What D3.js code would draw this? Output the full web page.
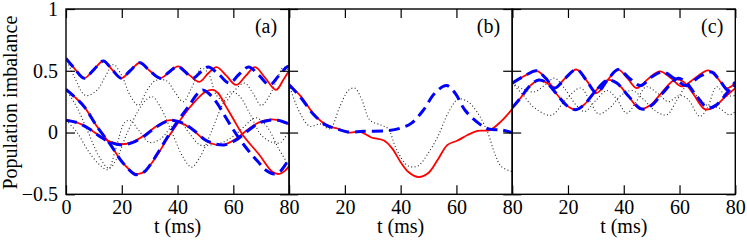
<!DOCTYPE html>
<html>
<head>
<meta charset="utf-8">
<script src="https://cdn.jsdelivr.net/npm/d3@7.9.0/dist/d3.min.js"></script>
<style>
  body { margin: 0; background: #fff; }
  svg text { font-family: "Liberation Serif", "Times New Roman", Times, "DejaVu Serif", serif; font-size: 20px; fill: #000; }
  .domain { display: none; }
  .tick line { stroke: #000; stroke-width: 1.2; }
</style>
</head>
<body>
<svg id="chart" width="747" height="244"></svg>
<script>
// panel (a): three initial imbalances 0.6, 0.35, 0.1
const aTopRed = [[0,0.6],[3,0.52],[6.5,0.44],[10,0.51],[13.4,0.58],[16.5,0.51],[19.8,0.44],[23,0.5],[26.5,0.565],[30,0.5],[33.8,0.44],[37,0.49],[40.2,0.535],[44,0.47],[47.8,0.41],[51,0.48],[54,0.53],[57.5,0.46],[61,0.385],[64.5,0.46],[67.8,0.53],[71.5,0.44],[75.3,0.345],[78,0.43],[80,0.5]];
const aTopBlue = [[0,0.6],[3,0.52],[6.5,0.44],[10,0.51],[13.4,0.58],[16.5,0.51],[19.8,0.44],[23,0.5],[26.5,0.565],[30,0.5],[33.8,0.44],[37,0.49],[40,0.535],[42.8,0.49],[45.5,0.44],[48.3,0.49],[51,0.53],[54.8,0.47],[58.6,0.4],[62,0.47],[65.5,0.53],[69.3,0.46],[73,0.385],[76.3,0.46],[79.5,0.535],[80,0.53]];
const aMidRed = [[0,0.35],[3,0.29],[6.5,0.21],[11.2,0.046],[16,-0.1],[20.2,-0.24],[24.4,-0.33],[26,-0.335],[28,-0.32],[32.8,-0.18],[36.3,-0.05],[40.5,0.087],[45,0.22],[50,0.33],[52.6,0.345],[54.5,0.32],[57.4,0.21],[60,0.11],[63.4,-0.02],[69.3,-0.18],[74.1,-0.32],[76.5,-0.335],[78.5,-0.31],[80,-0.27]];
const aMidBlue = [[0,0.35],[3,0.29],[6.5,0.21],[11.2,0.046],[16,-0.1],[20.2,-0.24],[24.8,-0.34],[26.5,-0.335],[28.5,-0.31],[32.8,-0.17],[36.3,-0.04],[40,0.09],[44.2,0.22],[47,0.31],[49,0.344],[51,0.32],[53.8,0.25],[56.8,0.14],[59.8,0.03],[62.8,-0.07],[65.8,-0.157],[68.8,-0.235],[71.7,-0.305],[74.7,-0.335],[77,-0.31],[79,-0.25],[80,-0.22]];
const aLowRed = [[0,0.1],[4,0.08],[8,0.035],[12,-0.025],[16,-0.075],[20,-0.095],[24,-0.075],[28,-0.025],[32,0.045],[36,0.095],[38,0.1],[42,0.07],[46,0.01],[50,-0.065],[54,-0.1],[57,-0.095],[61,-0.05],[65,0.02],[69,0.08],[73,0.105],[76,0.1],[80,0.065]];
const aLowBlue = [[0,0.1],[4,0.08],[8,0.035],[12,-0.03],[16,-0.08],[20,-0.1],[24,-0.08],[28,-0.03],[32,0.04],[36,0.09],[38,0.1],[42,0.075],[46,0.015],[50,-0.06],[54,-0.095],[57,-0.1],[61,-0.06],[65,0.01],[69,0.075],[73,0.1],[76,0.1],[80,0.07]];
const aDot1 = [[0,0.6],[3,0.45],[7,0.3],[11,0.34],[14,0.45],[17,0.55],[20,0.46],[23,0.3],[26,0.22],[29,0.34],[32,0.42],[36,0.42],[39,0.33],[42,0.25],[45,0.36],[48.5,0.52],[51,0.48],[54,0.3],[57,0.25],[60,0.33],[64,0.4],[67,0.32],[70,0.22],[73,0.3],[76,0.45],[78,0.53],[80,0.5]];
const aDot2 = [[0,0.35],[4,0.2],[8,0],[12,-0.2],[15.5,-0.29],[18,-0.22],[22,0],[26,0.18],[29,0.27],[31,0.29],[34,0.2],[38,0],[42,-0.2],[45,-0.28],[48,-0.2],[52,0],[56,0.22],[59,0.33],[62,0.3],[66,0.15],[70,-0.02],[74,-0.08],[77,-0.08],[80,0.02]];
const aDot3 = [[0,0.1],[4,0],[8,-0.15],[12,-0.26],[15,-0.3],[18,-0.12],[21,0.08],[23,0.1],[26,0.02],[30,-0.08],[34,-0.05],[38,0.05],[41,0.08],[44,0],[48,-0.1],[52,-0.1],[56,-0.08],[60,-0.03],[64,0.05],[68,0.12],[72,0.05],[76,-0.12],[80,-0.27]];

// panel (b)
const bRed = [[0,0.387],[4.3,0.29],[8.6,0.157],[13.3,0.06],[16.9,0.035],[21.6,0],[25.6,0.005],[29.5,-0.04],[34,-0.065],[37,-0.13],[40,-0.24],[42.8,-0.32],[46.2,-0.36],[49.8,-0.33],[53.3,-0.22],[56.8,-0.1],[60.4,-0.065],[64,-0.02],[67.6,0.013],[72,0.02],[76,0.09],[80,0.19]];
const bBlue = [[0,0.387],[4.3,0.28],[8.6,0.15],[13.3,0.06],[17,0.03],[21,0.005],[26.6,0.01],[35.2,0.014],[40,0.036],[43.9,0.076],[48.1,0.18],[52.3,0.32],[56.5,0.38],[59.5,0.32],[63.1,0.18],[67.9,0.076],[71.5,0.03],[76.3,0.02],[80,0]];
const bDot = [[0,0.387],[3.9,0.157],[7.5,0.05],[11.1,0.07],[14.6,0.03],[18.2,0.21],[21.2,0.34],[23.5,0.36],[26,0.27],[29,0.1],[33,0.06],[35.5,0.03],[38.6,-0.14],[42.7,-0.27],[46.2,-0.27],[49.8,-0.17],[53.4,-0.03],[57,0.157],[60.6,0.27],[64.1,0.25],[67.7,0.157],[71.3,-0.005],[73.7,-0.167],[76.1,-0.275],[80,-0.316]];

// panel (c): initial imbalances 0.4 and 0.2
const cUpRed = [[0,0.4],[4.5,0.46],[8.8,0.5],[12,0.44],[15.3,0.36],[19,0.44],[23.1,0.51],[26.7,0.42],[30.3,0.32],[34,0.42],[38,0.51],[41.3,0.44],[44.6,0.36],[49,0.44],[53,0.495],[57,0.44],[60.8,0.373],[65.5,0.44],[70.3,0.503],[73.6,0.44],[76.9,0.36],[80,0.4]];
const cUpBlue = [[0,0.4],[4.5,0.46],[8.8,0.5],[12,0.44],[15.3,0.36],[19,0.44],[23.1,0.51],[26.7,0.42],[30.3,0.32],[34,0.42],[38,0.51],[42,0.44],[46,0.38],[50,0.45],[54,0.49],[58,0.44],[62.5,0.38],[67,0.45],[71.5,0.49],[74.5,0.42],[77.5,0.34],[80,0.39]];
const cLowRed = [[0,0.2],[3,0.28],[6,0.37],[9.5,0.425],[12.5,0.4],[16,0.31],[19.5,0.22],[22.8,0.185],[26,0.23],[30,0.34],[34.3,0.425],[37.5,0.4],[41.5,0.3],[45.8,0.19],[49.5,0.22],[53.5,0.32],[58.5,0.43],[61.5,0.41],[65,0.31],[69,0.19],[72,0.2],[76,0.28],[80,0.36]];
const cLowBlue = [[0,0.2],[3,0.28],[6,0.37],[9.5,0.425],[12.5,0.4],[16,0.31],[19.5,0.22],[22.8,0.185],[26,0.23],[30,0.34],[34.3,0.425],[37.5,0.4],[41.5,0.3],[46.5,0.19],[50,0.22],[54,0.32],[59.5,0.44],[62.5,0.4],[66,0.3],[70,0.2],[73,0.22],[77,0.32],[80,0.41]];
const cDot1 = [[0,0.4],[4,0.3],[8,0.2],[14,0.14],[19,0.26],[24.5,0.36],[28,0.25],[31,0.15],[35,0.2],[39,0.3],[43,0.34],[47,0.27],[51,0.18],[55.4,0.143],[59,0.26],[62.6,0.37],[66,0.3],[70,0.22],[74,0.2],[78,0.143],[80,0.17]];
const cDot2 = [[0,0.4],[4,0.35],[8,0.33],[12,0.39],[15.2,0.44],[19,0.35],[23,0.22],[26,0.17],[30,0.26],[34,0.34],[37.5,0.27],[41,0.157],[44.5,0.25],[48,0.37],[52,0.32],[56,0.25],[60,0.3],[63,0.27],[67.3,0.13],[70,0.2],[73.3,0.37],[76.5,0.3],[80,0.3]];

const panelNames = ["(a)", "(b)", "(c)"];
const xTicks = [0, 20, 40, 60, 80];
const yTicks = [-0.5, 0, 0.5, 1];
const serif = "'Liberation Serif', 'Times New Roman', Times, 'DejaVu Serif', serif";

const panels = [
  { reds: [aTopRed, aMidRed, aLowRed], blues: [aTopBlue, aMidBlue, aLowBlue], dots: [aDot1, aDot2, aDot3] },
  { reds: [bRed], blues: [bBlue], dots: [bDot] },
  { reds: [cUpRed, cLowRed], blues: [cUpBlue, cLowBlue], dots: [cDot1, cDot2] }
];

const mLeft = 66, mTop = 9, pw = 223.1, mBottom = 194.3;
const svg = d3.select("#chart");
const y = d3.scaleLinear().domain([-0.5, 1]).range([mBottom, mTop]);

panels.forEach((p, i) => {
  const x0 = mLeft + i * pw;
  const x = d3.scaleLinear().domain([0, 80]).range([x0, x0 + pw]);
  const g = svg.append("g");

  g.append("clipPath").attr("id", "clip" + i)
    .append("rect").attr("x", x0).attr("y", mTop).attr("width", pw).attr("height", mBottom - mTop);

  const line = d3.line().x(d => x(d[0])).y(d => y(d[1])).curve(d3.curveCatmullRom.alpha(0.5));
  const plot = g.append("g").attr("clip-path", `url(#clip${i})`);

  p.dots.forEach(d => plot.append("path").attr("d", line(d))
    .attr("fill", "none").attr("stroke", "#222").attr("stroke-width", 1.1).attr("stroke-dasharray", "1,2.4"));
  p.reds.forEach(d => plot.append("path").attr("d", line(d))
    .attr("fill", "none").attr("stroke", "#ff0000").attr("stroke-width", 1.8));
  p.blues.forEach(d => plot.append("path").attr("d", line(d))
    .attr("fill", "none").attr("stroke", "#0000ff").attr("stroke-width", 3).attr("stroke-dasharray", "11,6"));

  // inward ticks on every side
  const bottomAxis = d3.axisBottom(x).tickValues(i === 0 ? xTicks : xTicks.slice(1))
    .tickSize(-9).tickPadding(6);
  g.append("g").attr("transform", `translate(0,${mBottom})`).call(bottomAxis);
  g.append("g").attr("transform", `translate(0,${mTop})`)
    .call(d3.axisTop(x).tickValues(xTicks).tickSize(-9).tickFormat(""));
  const leftAxis = d3.axisLeft(y).tickValues(yTicks).tickSize(-9).tickPadding(8)
    .tickFormat(i === 0 ? d3.format("") : "");
  g.append("g").attr("transform", `translate(${x0},0)`).call(leftAxis);
  g.append("g").attr("transform", `translate(${x0 + pw},0)`)
    .call(d3.axisRight(y).tickValues(yTicks).tickSize(-9).tickFormat(""));

  g.append("rect").attr("x", x0).attr("y", mTop).attr("width", pw).attr("height", mBottom - mTop)
    .attr("fill", "none").attr("stroke", "#000").attr("stroke-width", 1.4);

  g.append("text").attr("x", x0 + pw - 12).attr("y", 33).attr("text-anchor", "end").text(panelNames[i]);
  g.append("text").attr("x", x0 + pw / 2).attr("y", 233).attr("text-anchor", "middle").text("t (ms)");
});

svg.selectAll("g").attr("font-family", serif).attr("font-size", 20);
svg.selectAll("text").style("font-family", serif).style("font-size", "20px");

svg.append("text")
  .attr("transform", `translate(17,${(mTop + mBottom) / 2 + 1}) rotate(-90)`)
  .attr("text-anchor", "middle")
  .style("font-family", serif).style("font-size", "20px")
  .text("Population imbalance");
</script>
</body>
</html>
